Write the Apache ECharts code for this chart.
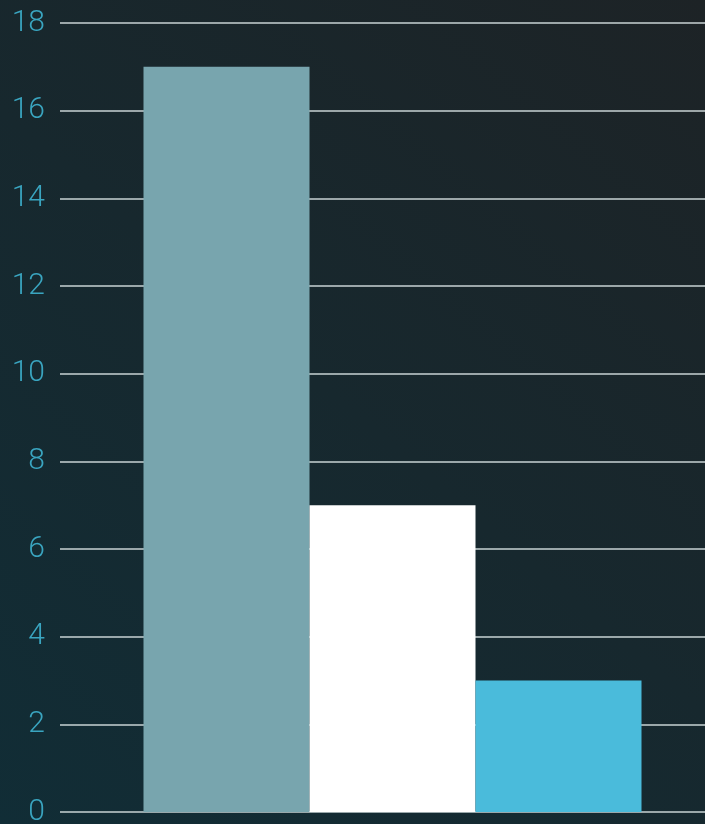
<!DOCTYPE html>
<html>
<head>
<meta charset="utf-8">
<script src="https://cdn.jsdelivr.net/npm/echarts@6/dist/echarts.min.js"></script>
<style>
html,body{margin:0;padding:0;width:705px;height:824px;overflow:hidden;}
#c{width:705px;height:824px;}
</style>
</head>
<body>
<div id="c"></div>
<script>
var categories = [''];
var seriesNames = ['A', 'B', 'C'];
var seriesValues = [[17], [7], [3]];
var seriesColors = ['#78a5ae', '#ffffff', '#4abbdb'];
var yTicks = [0, 2, 4, 6, 8, 10, 12, 14, 16, 18];

var chart = echarts.init(document.getElementById('c'), null, {renderer: 'canvas'});
var series = seriesNames.map(function (n, i) {
  return {
    name: n,
    type: 'bar',
    data: seriesValues[i],
    barWidth: 166,
    barGap: '0%',
    itemStyle: {color: seriesColors[i]},
    z: 3
  };
});
chart.setOption({
  backgroundColor: new echarts.graphic.LinearGradient(0, 1, 1, 0, [
    {offset: 0, color: '#112d36'},
    {offset: 1, color: '#1d2326'}
  ]),
  animation: false,
  grid: {left: 60, width: 665, top: 23, height: 789, containLabel: false, outerBoundsMode: 'none'},
  xAxis: {
    type: 'category',
    data: categories,
    axisLine: {show: false},
    axisTick: {show: false},
    axisLabel: {show: false}
  },
  yAxis: {
    type: 'value',
    min: yTicks[0],
    max: yTicks[yTicks.length - 1],
    interval: 2,
    axisLine: {show: false},
    axisTick: {show: false},
    axisLabel: {
      color: '#3aa5c0',
      fontSize: 30,
      fontFamily: 'Roboto',
      fontWeight: 300,
      margin: 15,
      padding: [6, 0, 0, 0]
    },
    splitLine: {lineStyle: {color: '#c9d3d5', width: 1.5}}
  },
  series: series
});
</script>
</body>
</html>
